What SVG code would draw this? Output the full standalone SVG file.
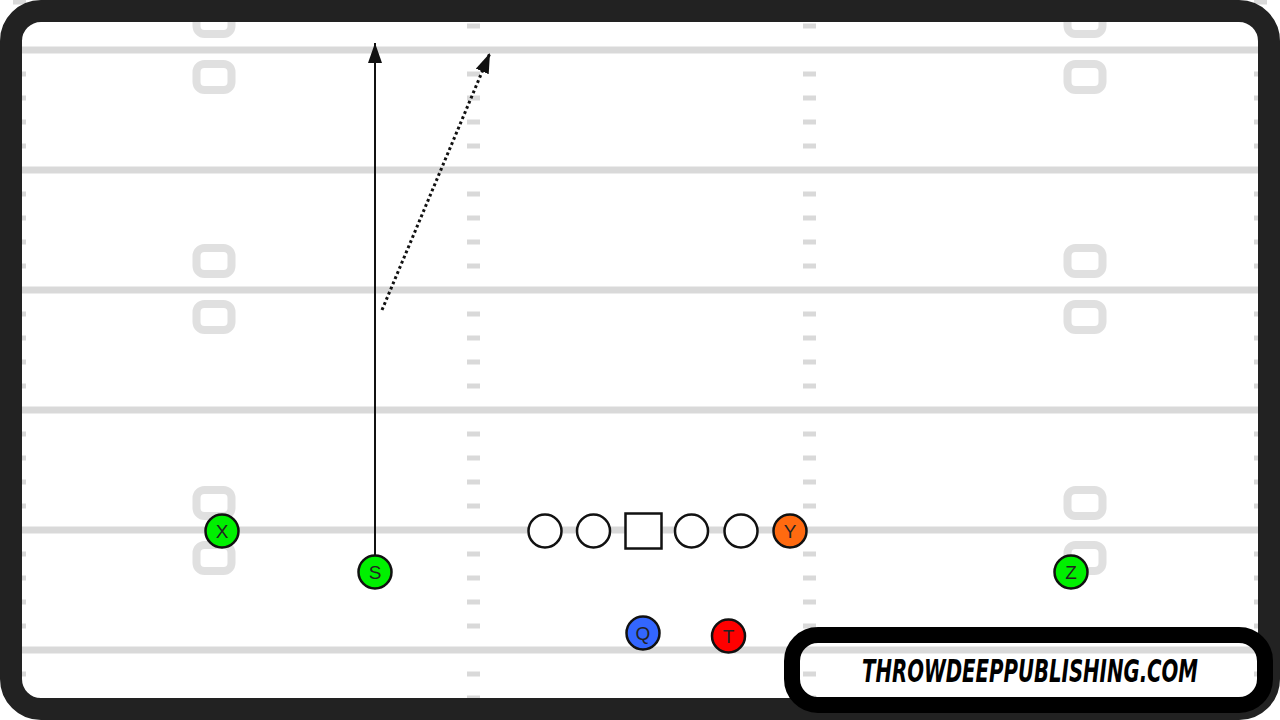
<svg xmlns="http://www.w3.org/2000/svg" xmlns:xlink="http://www.w3.org/1999/xlink" width="1280" height="720" viewBox="0 0 1280 720">
<style>
.yard{stroke:#d9d9d9;stroke-width:7;fill:none}
.hash{stroke:#d9d9d9;stroke-width:5;fill:none}
.num{fill:none;stroke:#e0e0e0;stroke-width:8}
.player{stroke:#111;stroke-width:2.5}
.lbl{font-family:"Liberation Sans",Arial,sans-serif;font-size:19px;fill:#222;text-anchor:middle;dominant-baseline:central}
.route{stroke:#111;stroke-width:2;fill:none}
.dotted{stroke:#111;stroke-width:3;fill:none;stroke-dasharray:2.8 2.8}
</style>
<defs>
<marker id="arrow" markerUnits="userSpaceOnUse" markerWidth="22" markerHeight="16" refX="20" refY="7" orient="auto">
<path d="M0,0 L20,7 L0,14 z" fill="#111"/>
</marker>
<path id="hashes" class="hash" d="M0 2h13M0 26h13M0 74h13M0 98h13M0 122h13M0 146h13M0 194h13M0 218h13M0 242h13M0 266h13M0 314h13M0 338h13M0 362h13M0 386h13M0 434h13M0 458h13M0 482h13M0 506h13M0 554h13M0 578h13M0 602h13M0 626h13M0 674h13M0 698h13"/>
<g id="nums" class="num">
<rect x="-17.5" y="-13" width="35" height="26" rx="8"/>
</g>
</defs>
<g id="field">
<rect x="0" y="0" width="1280" height="720" fill="#ffffff"/>
<path class="yard" d="M0 50H1280M0 170H1280M0 290H1280M0 410H1280M0 530H1280M0 650H1280"/>
<use xlink:href="#hashes" x="13"/>
<use xlink:href="#hashes" x="467"/>
<use xlink:href="#hashes" x="803"/>
<use xlink:href="#hashes" x="1254"/>
<use xlink:href="#nums" x="214" y="21"/>
<use xlink:href="#nums" x="214" y="77"/>
<use xlink:href="#nums" x="214" y="261"/>
<use xlink:href="#nums" x="214" y="317"/>
<use xlink:href="#nums" x="214" y="503"/>
<use xlink:href="#nums" x="214" y="558"/>
<use xlink:href="#nums" x="1085" y="21"/>
<use xlink:href="#nums" x="1085" y="77"/>
<use xlink:href="#nums" x="1085" y="261"/>
<use xlink:href="#nums" x="1085" y="317"/>
<use xlink:href="#nums" x="1085" y="503"/>
<use xlink:href="#nums" x="1085" y="558"/>
</g>
<rect id="border" x="11" y="11" width="1258" height="698" rx="30" fill="none" stroke="#222" stroke-width="22"/>
<g id="connectors">
<line class="route" x1="375" y1="556" x2="375" y2="43" marker-end="url(#arrow)"/>
<line class="dotted" x1="382" y1="310" x2="490" y2="53" marker-end="url(#arrow)"/>
</g>
<g id="X"><circle class="player" cx="222" cy="531" r="16.5" fill="#00f000"/><text class="lbl" x="222" y="531">X</text></g>
<g id="S"><circle class="player" cx="375" cy="572" r="16.5" fill="#00f000"/><text class="lbl" x="375" y="572">S</text></g>
<g id="Z"><circle class="player" cx="1071" cy="572" r="16.5" fill="#00f000"/><text class="lbl" x="1071" y="572">Z</text></g>
<g id="OL1"><circle class="player" cx="545" cy="531" r="16.5" fill="#fff"/></g>
<g id="OL2"><circle class="player" cx="593.5" cy="531" r="16.5" fill="#fff"/></g>
<g id="C"><rect class="player" x="625.5" y="513.5" width="36" height="35" fill="#fff"/></g>
<g id="OL4"><circle class="player" cx="691.5" cy="531" r="16.5" fill="#fff"/></g>
<g id="OL5"><circle class="player" cx="741" cy="531" r="16.5" fill="#fff"/></g>
<g id="Y"><circle class="player" cx="790" cy="531" r="16.5" fill="#ff6a10"/><text class="lbl" x="790" y="531">Y</text></g>
<g id="Q"><circle class="player" cx="643" cy="633" r="16.5" fill="#3366ff"/><text class="lbl" x="643" y="633">Q</text></g>
<g id="T"><circle class="player" cx="728.5" cy="636" r="16.5" fill="#ff0000"/><text class="lbl" x="728.5" y="636">T</text></g>
<g id="logo">
<rect x="792" y="635" width="473" height="70" rx="26" fill="none" stroke="#000" stroke-width="16"/>
<text transform="translate(1030,682) scale(1,1.33)" x="0" y="0" font-family="'DejaVu Sans Condensed','DejaVu Sans',sans-serif" font-weight="bold" font-style="italic" font-size="24" textLength="336" lengthAdjust="spacingAndGlyphs" text-anchor="middle" fill="#000">THROWDEEPPUBLISHING.COM</text>
</g>
</svg>
